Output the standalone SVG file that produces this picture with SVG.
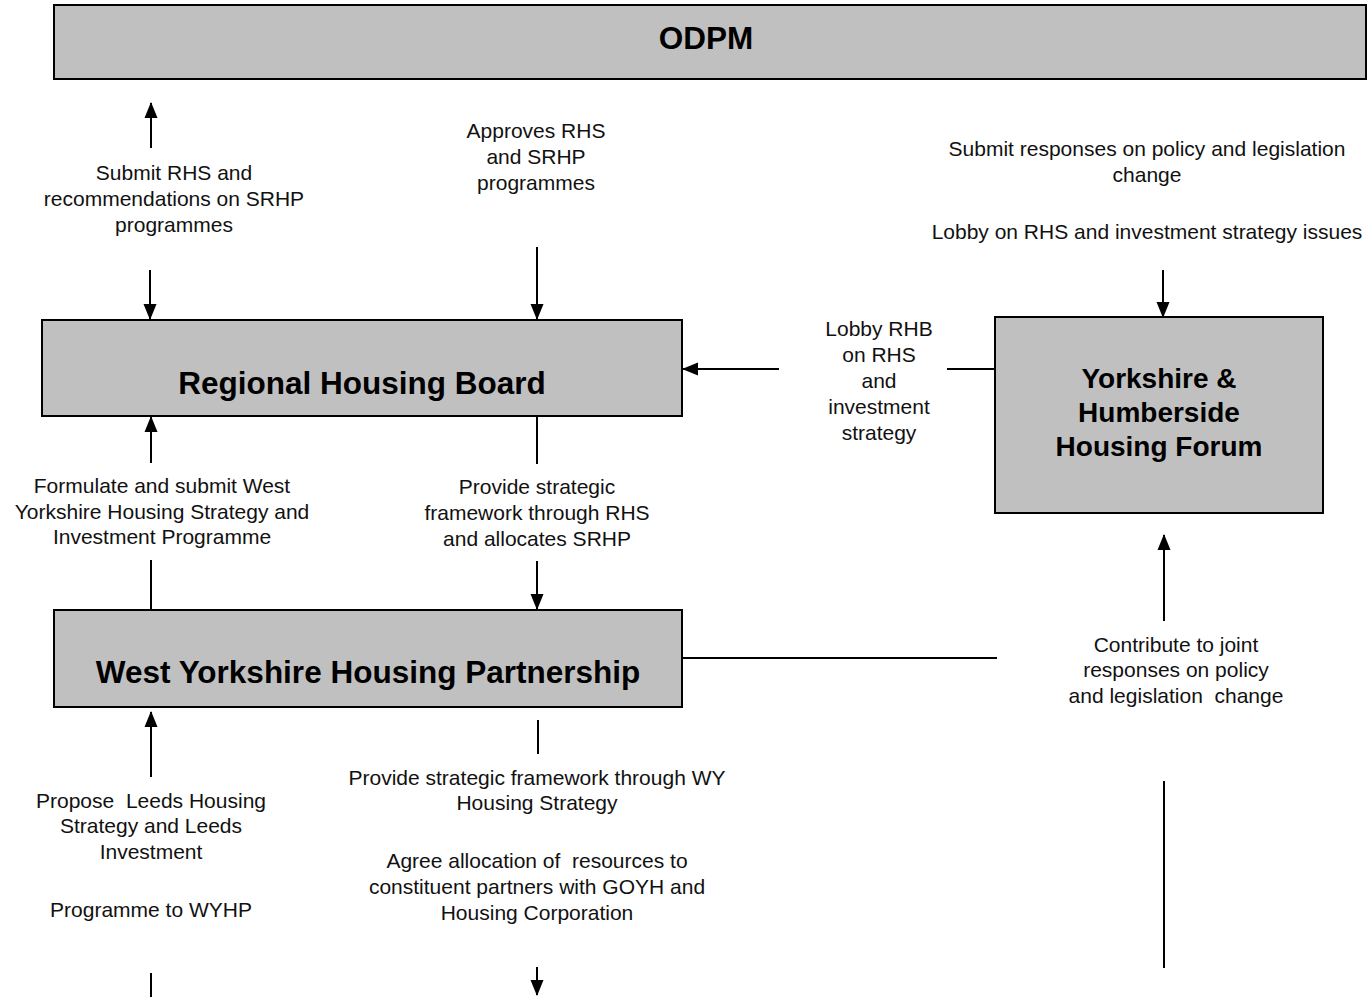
<svg xmlns="http://www.w3.org/2000/svg" width="1372" height="997" viewBox="0 0 1372 997">
<defs>
<marker id="ah" markerUnits="userSpaceOnUse" markerWidth="16" markerHeight="16" viewBox="0 0 16 16" refX="15" refY="8" orient="auto">
<path d="M0,1.5 L16,8 L0,14.5 Z" fill="#000"/>
</marker>
<style>
.box{fill:#c0c0c0;stroke:#000;stroke-width:2}
.title{font-family:"Liberation Sans",Arial,sans-serif;font-weight:bold;font-size:31.5px;text-anchor:middle;fill:#000}
.t2{font-family:"Liberation Sans",Arial,sans-serif;font-weight:bold;font-size:28px;text-anchor:middle;fill:#000}
.lbl{font-family:"Liberation Sans",Arial,sans-serif;font-size:21px;text-anchor:middle;fill:#111}
.c{stroke:#000;stroke-width:2;fill:none}
.a{stroke:#000;stroke-width:2;fill:none;marker-end:url(#ah)}
</style>
</defs>
<rect width="1372" height="997" fill="#fff"/>
<g id="odpm">
<rect class="box" x="54" y="5" width="1312" height="74"/>
<text class="title" x="706" y="49">ODPM</text>
</g>
<g id="rhb">
<rect class="box" x="42" y="320" width="640" height="96"/>
<text class="title" x="362" y="394">Regional Housing Board</text>
</g>
<g id="yhhf">
<rect class="box" x="995" y="317" width="328" height="196"/>
<text class="t2" x="1159" y="388">Yorkshire &amp;</text>
<text class="t2" x="1159" y="422">Humberside</text>
<text class="t2" x="1159" y="456">Housing Forum</text>
</g>
<g id="wyhp">
<rect class="box" x="54" y="610" width="628" height="97"/>
<text class="title" x="368" y="683">West Yorkshire Housing Partnership</text>
</g>
<g id="connectors">
<line class="a" x1="151" y1="148" x2="151" y2="103"/>
<line class="a" x1="150" y1="270" x2="150" y2="319"/>
<line class="a" x1="537" y1="247" x2="537" y2="319"/>
<line class="a" x1="1163" y1="270" x2="1163" y2="317"/>
<line class="a" x1="779" y1="369" x2="683" y2="369"/>
<line class="c" x1="947" y1="369" x2="995" y2="369"/>
<line class="a" x1="151" y1="463" x2="151" y2="417"/>
<line class="c" x1="151" y1="560" x2="151" y2="610"/>
<line class="c" x1="537" y1="417" x2="537" y2="464"/>
<line class="a" x1="537" y1="561" x2="537" y2="609"/>
<line class="c" x1="682" y1="658" x2="997" y2="658"/>
<line class="a" x1="1164" y1="621" x2="1164" y2="535"/>
<line class="c" x1="1164" y1="781" x2="1164" y2="968"/>
<line class="a" x1="151" y1="777" x2="151" y2="712"/>
<line class="c" x1="151" y1="973" x2="151" y2="997"/>
<line class="c" x1="538" y1="720" x2="538" y2="754"/>
<line class="a" x1="537" y1="967" x2="537" y2="995"/>
</g>
<g id="labels">
<text class="lbl" x="174" y="180">Submit RHS and</text>
<text class="lbl" x="174" y="206">recommendations on SRHP</text>
<text class="lbl" x="174" y="232">programmes</text>
<text class="lbl" x="536" y="138">Approves RHS</text>
<text class="lbl" x="536" y="164">and SRHP</text>
<text class="lbl" x="536" y="190">programmes</text>
<text class="lbl" x="1147" y="156">Submit responses on policy and legislation</text>
<text class="lbl" x="1147" y="182">change</text>
<text class="lbl" x="1147" y="239">Lobby on RHS and investment strategy issues</text>
<text class="lbl" x="879" y="336">Lobby RHB</text>
<text class="lbl" x="879" y="362">on RHS</text>
<text class="lbl" x="879" y="388">and</text>
<text class="lbl" x="879" y="414">investment</text>
<text class="lbl" x="879" y="440">strategy</text>
<text class="lbl" x="162" y="493">Formulate and submit West</text>
<text class="lbl" x="162" y="519">Yorkshire Housing Strategy and</text>
<text class="lbl" x="162" y="544">Investment Programme</text>
<text class="lbl" x="537" y="494">Provide strategic</text>
<text class="lbl" x="537" y="520">framework through RHS</text>
<text class="lbl" x="537" y="546">and allocates SRHP</text>
<text class="lbl" x="1176" y="652">Contribute to joint</text>
<text class="lbl" x="1176" y="677">responses on policy</text>
<text class="lbl" x="1176" y="703" xml:space="preserve">and legislation  change</text>
<text class="lbl" x="151" y="808" xml:space="preserve">Propose  Leeds Housing</text>
<text class="lbl" x="151" y="833">Strategy and Leeds</text>
<text class="lbl" x="151" y="859">Investment</text>
<text class="lbl" x="151" y="917">Programme to WYHP</text>
<text class="lbl" x="537" y="785">Provide strategic framework through WY</text>
<text class="lbl" x="537" y="810">Housing Strategy</text>
<text class="lbl" x="537" y="868" xml:space="preserve">Agree allocation of  resources to</text>
<text class="lbl" x="537" y="894">constituent partners with GOYH and</text>
<text class="lbl" x="537" y="920">Housing Corporation</text>
</g>
</svg>
